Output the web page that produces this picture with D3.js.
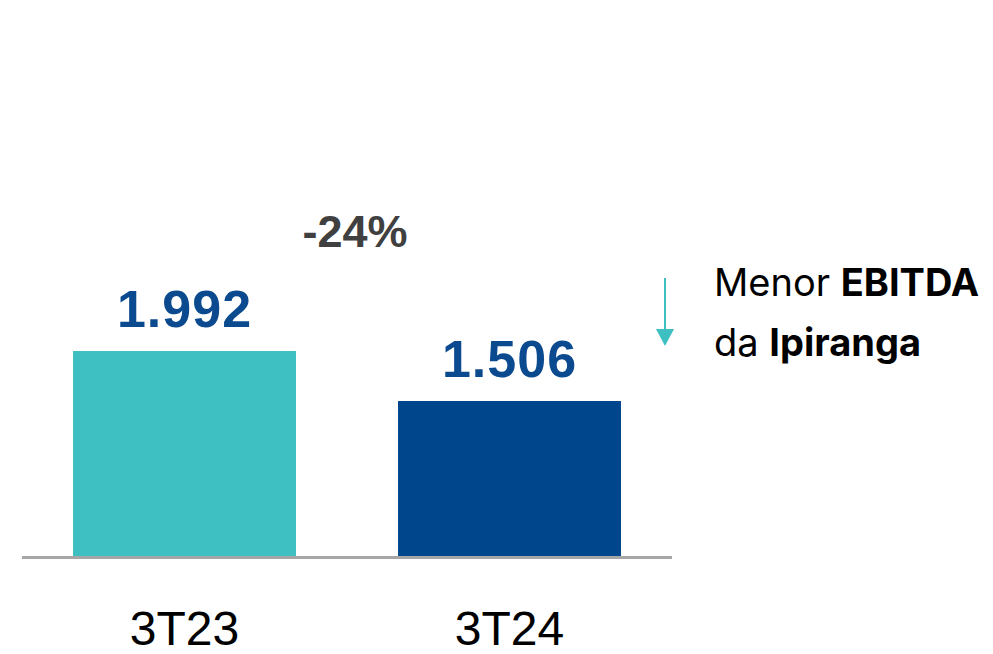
<!DOCTYPE html>
<html>
<head>
<meta charset="utf-8">
<script src="https://cdn.jsdelivr.net/npm/d3@7"></script>
<style>
  body { margin: 0; background: #fff; }
  svg { display: block; }
</style>
</head>
<body>
<svg width="993" height="654"></svg>
<script>
// dados
var periods = ["3T23", "3T24"];
var ebitda = [1992, 1506];
var valueLabels = ["1.992", "1.506"];
var changeLabel = "-24%";
var noteLines = [["Menor ", "EBITDA"], ["da ", "Ipiranga"]];

var colors = ["#3EBFC1", "#00468C"];

var svg = d3.select("svg");

var x = d3.scaleBand()
	.domain(periods)
	.range([22, 672])
	.paddingInner(0.314)
	.paddingOuter(0.157);

var y = d3.scaleLinear()
	.domain([0, 1992])
	.range([556, 351]);

// barras
svg.selectAll("rect.bar")
	.data(ebitda)
	.enter().append("rect")
	.attr("class", "bar")
	.attr("x", function(d, i) { return x(periods[i]); })
	.attr("y", function(d) { return y(d); })
	.attr("width", x.bandwidth())
	.attr("height", function(d) { return y(0) - y(d); })
	.attr("fill", function(d, i) { return colors[i]; });

// linha de base
svg.append("line")
	.attr("x1", 22).attr("x2", 672)
	.attr("y1", y(0) + 1.5).attr("y2", y(0) + 1.5)
	.attr("stroke", "#A6A6A6")
	.attr("stroke-width", 3);

// rotulos de valor
svg.selectAll("text.val")
	.data(ebitda)
	.enter().append("text")
	.attr("class", "val")
	.attr("x", function(d, i) { return x(periods[i]) + x.bandwidth() / 2; })
	.attr("y", function(d) { return y(d) - 24; })
	.attr("text-anchor", "middle")
	.attr("font-family", "Liberation Sans, Arial, sans-serif")
	.attr("font-weight", "bold")
	.attr("font-size", 52)
	.attr("letter-spacing", 1)
	.attr("fill", "#0B4A8F")
	.text(function(d, i) { return valueLabels[i]; });

// eixo x
svg.append("g")
	.attr("transform", "translate(0," + (y(0) + 3) + ")")
	.call(d3.axisBottom(x).tickSize(0).tickPadding(0))
	.call(function(g) { g.select(".domain").remove(); })
	.selectAll("text")
	.attr("y", 86)
	.attr("dy", 0)
	.attr("font-family", "Liberation Sans, Arial, sans-serif")
	.attr("font-size", 48)
	.attr("fill", "#000");

// variacao
svg.append("text")
	.attr("x", 355)
	.attr("y", 247)
	.attr("text-anchor", "middle")
	.attr("font-family", "Liberation Sans, Arial, sans-serif")
	.attr("font-weight", "bold")
	.attr("font-size", 45)
	.attr("fill", "#404040")
	.text(changeLabel);

// seta
var ax = 665;
svg.append("line")
	.attr("x1", ax).attr("x2", ax)
	.attr("y1", 278).attr("y2", 332)
	.attr("stroke", colors[0])
	.attr("stroke-width", 2);
svg.append("path")
	.attr("d", "M" + (ax - 9) + ",329L" + (ax + 9) + ",329L" + ax + ",346Z")
	.attr("fill", colors[0]);

// nota
var note = svg.append("g")
	.attr("font-family", "Inter, Noto Sans, sans-serif")
	.attr("font-size", 38)
	.attr("fill", "#000");
note.selectAll("text")
	.data(noteLines)
	.enter().append("text")
	.attr("x", 714)
	.attr("y", function(d, i) { return 296 + i * 60; })
	.each(function(d) {
		var t = d3.select(this);
		t.append("tspan").attr("font-weight", "normal").text(d[0]);
		t.append("tspan").attr("font-weight", "bold").text(d[1]);
	});
</script>
</body>
</html>
